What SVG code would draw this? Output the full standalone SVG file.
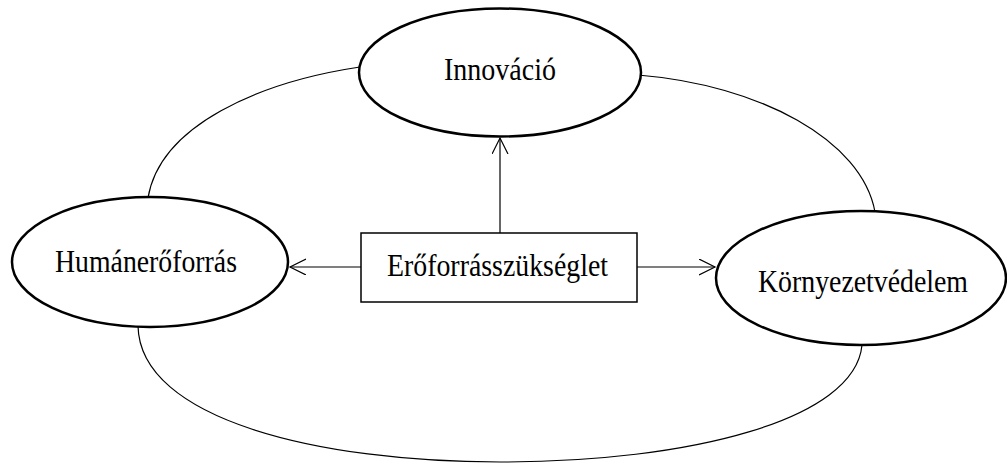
<svg xmlns="http://www.w3.org/2000/svg" width="1007" height="466" viewBox="0 0 1007 466">
<defs>
<style>
.node{fill:#fff;stroke:#000;stroke-width:2.5}
.box{fill:#fff;stroke:#000;stroke-width:1.5}
.lbl{font-family:"Liberation Serif","Times New Roman",serif;font-size:31px;fill:#000;text-anchor:middle}
.con{fill:none;stroke:#000;stroke-width:1.2}
</style>
<marker id="open" markerWidth="20" markerHeight="20" refX="16" refY="8" orient="auto" markerUnits="userSpaceOnUse">
<path d="M0,0 L16,8 L0,16" fill="none" stroke="#000" stroke-width="1.2"/>
</marker>
</defs>
<rect width="1007" height="466" fill="#fff"/>
<g id="connectors">
<path class="con" d="M148,198 C160,125 260,82 360,67"/>
<path class="con" d="M638,75 C760,85 862,140 875,212"/>
<path class="con" d="M138,326 C140,420 320,462 500,462 C690,462 855,420 862,345"/>
<line class="con" x1="500" y1="233" x2="500" y2="138" marker-end="url(#open)"/>
<line class="con" x1="361" y1="267" x2="290" y2="267" marker-end="url(#open)"/>
<line class="con" x1="637" y1="267" x2="715" y2="267" marker-end="url(#open)"/>
</g>
<g id="innovacio">
<ellipse class="node" cx="500" cy="72.5" rx="141" ry="64"/>
<text class="lbl" x="500" y="80" textLength="112" lengthAdjust="spacingAndGlyphs">Innováció</text>
</g>
<g id="humaneroforras">
<ellipse class="node" cx="150" cy="262" rx="138" ry="65"/>
<text class="lbl" x="146" y="272" textLength="182" lengthAdjust="spacingAndGlyphs">Humánerőforrás</text>
</g>
<g id="kornyezetvedelem">
<ellipse class="node" cx="861" cy="278" rx="145" ry="67"/>
<text class="lbl" x="863" y="292" textLength="210" lengthAdjust="spacingAndGlyphs">Környezetvédelem</text>
</g>
<g id="eroforrasszukseglet">
<rect class="box" x="361" y="233" width="276" height="69"/>
<text class="lbl" x="497.5" y="276" textLength="221" lengthAdjust="spacingAndGlyphs">Erőforrásszükséglet</text>
</g>
</svg>
